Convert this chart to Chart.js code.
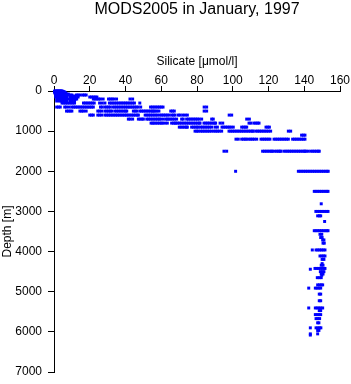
<!DOCTYPE html>
<html>
<head>
<meta charset="utf-8">
<script src="https://cdn.jsdelivr.net/npm/chart.js@4"></script>
<style>
html,body{margin:0;padding:0;background:#fff;}
canvas{display:block;}
</style>
</head>
<body>
<canvas id="c" width="351" height="384"></canvas>
<script>
const chartTitle = 'MODS2005 in January, 1997';
const xTitle = 'Silicate [\u03bcmol/l]';
const yTitle = 'Depth [m]';
const xTicks = [0, 20, 40, 60, 80, 100, 120, 140, 160];
const yTicks = [0, 1000, 2000, 3000, 4000, 5000, 6000, 7000];

// sample depths [m]
const depths = [0, 10, 20, 30, 50, 75, 100, 125, 150, 200, 250, 300, 400, 500, 600, 700, 800, 900, 1000, 1100, 1200, 1500, 2000, 2500, 2810, 3000, 3110, 3250, 3480, 3570, 3650, 3710, 3790, 3960, 4110, 4195, 4300, 4340, 4420, 4440, 4500, 4560, 4590, 4650, 4830, 4910, 5060, 5225, 5405, 5470, 5570, 5670, 5775, 5900, 5965, 6050, 6080];

// silicate values [umol/l] observed at each depth (same order as depths)
const silicate = [
  [0.5, 1, 1.5, 2, 2.5, 3, 3.5, 4, 4.5],
  [0.3, 1, 2, 3, 4, 5],
  [0.5, 1.5, 2.5, 3.5, 4.5, 5.5],
  [0.5, 1.5, 2.5, 3.5, 4.5, 5.5, 6],
  [0.5, 1.5, 2.5, 3.5, 4.5, 5.5, 6.5],
  [1, 2, 3, 4, 5, 6, 7, 8],
  [1, 2, 3, 4, 5, 6, 8, 9, 10, 12.5, 13.5, 14.5, 16, 17, 18],
  [1, 2, 3, 4, 5, 6, 7, 9, 10, 11],
  [1, 2, 3, 4, 5, 6, 7, 9, 10, 11, 12, 13.5, 20, 21, 22, 23, 24],
  [1.5, 3, 4, 5, 6, 7, 8, 9, 10, 11, 12, 12.7, 22, 23, 24, 25, 26, 27.5, 30.5, 31.5, 32.5, 33.5, 35, 42.5, 44],
  [1.5, 3, 4, 5, 6, 7, 9, 10, 11.5],
  [4.5, 5.5, 6.5, 7.5, 8.5, 9.5, 10.5, 11.5, 16.5, 17.5, 18.5, 19.5, 20.5, 21.5, 22.5, 25.5, 27, 28.5, 31, 32, 33, 34, 35, 36, 37, 38, 39, 40, 41, 42, 43, 44, 45, 48],
  [1.5, 2.5, 3.5, 6, 7, 8.5, 10, 11, 12, 13, 14, 15, 16, 17, 18, 19, 20, 21, 22, 26, 27, 28.5, 29.5, 30.5, 31.5, 33, 34, 35, 36, 37, 38, 39, 40, 41, 42, 43, 44, 45, 46, 47, 48.5, 54, 55, 56, 57, 58, 59, 60, 61, 84, 85.4],
  [7, 8, 9, 10, 14.5, 15.5, 16.5, 18, 24.5, 25.5, 26.7, 28.5, 29.5, 30.5, 31.5, 32.3, 34, 35, 36, 37, 38, 39, 40, 40.7, 44.4, 45.4, 46.3, 48, 49, 50, 51, 52, 53, 54, 55, 55.6, 56.5, 57.5, 58.7, 65.3, 66.3, 67.3, 84, 85.4],
  [20, 21, 22, 24.5, 25.5, 26.7, 28.5, 29.5, 30.5, 31.5, 32.5, 33.5, 34.5, 35.5, 36.5, 37.5, 38.5, 39.5, 40.5, 41.4, 42.5, 43.5, 44.5, 45.5, 46.5, 47.2, 51, 52, 53, 54, 55, 56, 57, 58, 59.3, 60.3, 61.3, 62.3, 63.3, 64.3, 65.8, 66.8, 67.7, 69.5, 70.5, 72, 73.3, 74.6, 98, 99.4],
  [41.6, 42.6, 44, 47.2, 48.2, 49.2, 50, 51.9, 52.9, 53.9, 54.9, 55.9, 56.9, 57.9, 58.9, 59.7, 61.2, 62.7, 63.4, 64.4, 65.4, 66.4, 67.4, 68.6, 71.4, 72.3, 74.2, 75.2, 76.2, 77.2, 78.2, 79.2, 80.2, 81.2, 82.6, 88.2, 89.1, 107.8, 109.3],
  [54.3, 55.2, 56, 57, 58, 59, 60, 60.8, 62.1, 63.4, 65.8, 66.8, 67.7, 68.2, 69.2, 70.2, 71.2, 72.2, 73.2, 74.2, 75.2, 76.2, 77.2, 78.2, 79.2, 80.2, 81.2, 81.7, 83.9, 84.9, 85.9, 86.9, 87.9, 88.9, 89.9, 90.4, 92.9, 94.4, 109.1, 110.2, 111.9, 112.9, 113.9, 114.7],
  [70.1, 71.1, 72.1, 73.1, 74.1, 74.6, 77, 78, 79, 80, 80.7, 82, 83, 84, 85, 86, 87, 88.2, 90.1, 91.4, 94, 95, 96, 97, 98, 99, 100.3, 105, 106, 107, 107.8, 118.6, 119.6, 120.5],
  [78.9, 79.9, 80.7, 82, 83, 84, 85, 86, 87, 88.2, 89.5, 90.5, 91.5, 92.5, 93.8, 97.9, 98.9, 99.9, 100.9, 101.9, 102.9, 103.9, 104.9, 105.9, 106.9, 107.9, 108.9, 109.9, 110.9, 111.5, 113, 114, 115, 116, 117, 118, 119, 120, 121.2, 131.1, 132.4],
  [138.5, 139.5, 140.4],
  [101.8, 103.1, 105, 106, 107, 107.8, 109.1, 110.1, 111.1, 112.1, 113.4, 115.8, 116.8, 117.8, 118.8, 119.8, 120.8, 123.1, 124.1, 125.1, 126.1, 127.1, 128.1, 129.1, 130.1, 131.1, 133.5, 134.5, 135.5, 136.5, 137.5, 138.5, 139.5, 140.4],
  [95.1, 96.6, 116.7, 117.7, 118.7, 119.7, 120.7, 121.7, 122.3, 123.6, 124.6, 125.6, 126.4, 127, 128.7, 129.8, 130.8, 131.8, 132.8, 133.8, 134.8, 135.8, 136.8, 137.8, 138.8, 139.8, 140.4, 141, 142.3, 143.8, 144.8, 145.8, 146.8, 147.8, 148.4],
  [101.6, 136.7, 137.7, 138.7, 139.7, 140.7, 141.7, 142.7, 143.7, 144.7, 145.7, 146.7, 147.7, 148.7, 149.7, 150.7, 151.7, 152.7, 153.4],
  [145.6, 146.6, 147.6, 148.6, 149.6, 150.6, 151.6, 152.6, 153.3],
  [149.5],
  [146.5, 147.5, 148.5, 149.5, 150.5, 151.5, 152.5, 153.3],
  [147.5, 148.5, 149.2],
  [151.4],
  [145.6, 146.6, 147.6, 148.6, 149.6, 150.6, 151.6, 152.6, 153.3],
  [148.8, 149.8],
  [149.2, 150],
  [150.3, 151],
  [150.5, 151.2],
  [144.5, 146.6, 147.6, 148.6, 149.6, 150.6, 151.6],
  [148.8, 149.8, 150.8, 151.6],
  [150, 151],
  [150],
  [149.5, 150.5],
  [146, 147, 148, 149, 150, 151, 151.6],
  [143.4],
  [149, 150, 151],
  [149.5, 150.5],
  [149.8],
  [147.3, 148.4, 149.5],
  [147.5, 148.5, 149.5, 150.3],
  [142.5, 146.2, 147.2, 148.2, 149.2],
  [148.4, 149.2],
  [148.4, 149.2],
  [142.5, 146.2, 147.2, 148.2, 149.2, 150.3],
  [148.4, 149.2],
  [146.2, 147.2, 148.2, 149.2],
  [146.6, 147.6, 148.6],
  [147.5, 148.2],
  [143.4, 146.6, 147.6, 148.6, 149.3],
  [147.5, 148.2],
  [143.4, 147.5],
  [143.4]
];

const points = [];
depths.forEach((d, i) => {
  silicate[i].forEach(s => points.push({x: s, y: d}));
});

const FONT = 'Liberation Sans, Arial, Helvetica, sans-serif';
const BLACK = '#000000';

new Chart(document.getElementById('c'), {
  type: 'scatter',
  data: {
    datasets: [{
      data: points,
      pointStyle: 'rect',
      pointRadius: 2.1,
      pointHoverRadius: 2.1,
      borderWidth: 0,
      backgroundColor: '#0000ff',
      borderColor: '#0000ff',
      clip: false
    }]
  },
  options: {
    responsive: false,
    animation: false,
    devicePixelRatio: 1,
    events: [],
    layout: { padding: { left: 0, right: 11, top: 0, bottom: 8 } },
    plugins: {
      legend: { display: false },
      tooltip: { enabled: false },
      title: {
        display: true,
        text: chartTitle,
        fullSize: false,
        color: BLACK,
        font: { family: FONT, size: 16, weight: 'normal', lineHeight: 1.2 },
        padding: { top: 0, bottom: 0 }
      }
    },
    scales: {
      x: {
        type: 'linear',
        position: 'top',
        min: xTicks[0],
        max: xTicks[xTicks.length - 1],
        afterBuildTicks: s => { s.ticks = xTicks.map(v => ({value: v})); },
        afterFit: s => { s.height = 71.8; },
        ticks: { color: BLACK, font: { family: FONT, size: 12, lineHeight: 1 }, padding: -1, maxRotation: 0, autoSkip: false, callback: v => String(v) },
        grid: { drawOnChartArea: false, drawTicks: true, tickLength: 5, color: BLACK, lineWidth: 1 },
        border: { display: true, color: BLACK, width: 1 },
        title: { display: true, text: xTitle, color: BLACK, font: { family: FONT, size: 12, lineHeight: 1.2 }, padding: { top: 35.3, bottom: 0 } }
      },
      y: {
        type: 'linear',
        position: 'left',
        reverse: true,
        min: yTicks[0],
        max: yTicks[yTicks.length - 1],
        afterBuildTicks: s => { s.ticks = yTicks.map(v => ({value: v})); },
        afterFit: s => { s.width = 54; },
        ticks: { color: BLACK, font: { family: FONT, size: 12, lineHeight: 1 }, padding: 6, autoSkip: false, callback: v => String(v) },
        grid: { drawOnChartArea: false, drawTicks: true, tickLength: 6, color: BLACK, lineWidth: 1 },
        border: { display: true, color: BLACK, width: 1 },
        title: { display: true, text: yTitle, color: BLACK, font: { family: FONT, size: 12, lineHeight: 1.2 }, padding: { top: 0, bottom: 0 } }
      }
    }
  }
});
</script>
</body>
</html>
